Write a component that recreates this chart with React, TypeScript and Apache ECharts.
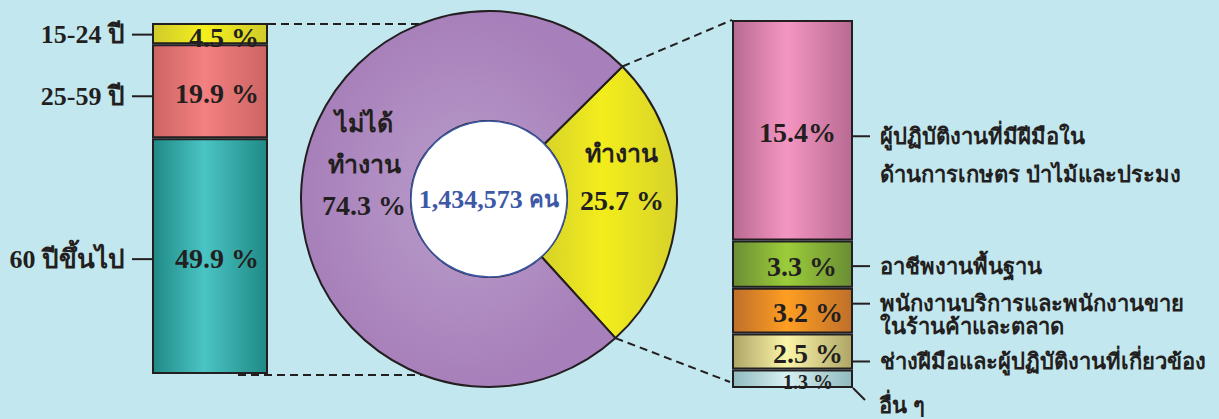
import React, { useEffect, useRef } from 'react';
import * as echarts from 'echarts';

// ---------- data ----------
const ageLabels = ['15-24 ปี', '25-59 ปี', '60 ปีขึ้นไป'];
const ageValues = [4.5, 19.9, 49.9];
const ageValueLabels = ['4.5 %', '19.9 %', '49.9 %'];

const statusNames = ['ทำงาน', 'ไม่ได้ทำงาน'];
const statusValues = [25.7, 74.3];
const statusLabels = ['ทำงาน\n25.7 %', 'ไม่ได้\nทำงาน\n74.3 %'];
const totalLabel = '1,434,573 คน';

const occLabels = [
  'ผู้ปฏิบัติงานที่มีฝีมือใน\nด้านการเกษตร ป่าไม้และประมง',
  'อาชีพงานพื้นฐาน',
  'พนักงานบริการและพนักงานขาย\nในร้านค้าและตลาด',
  'ช่างฝีมือและผู้ปฏิบัติงานที่เกี่ยวข้อง',
  'อื่น ๆ',
];
const occValues = [15.4, 3.3, 3.2, 2.5, 1.3];
const occValueLabels = ['15.4%', '3.3 %', '3.2 %', '2.5 %', '1.3 %'];

// ---------- style / layout ----------
const BG = '#c3e7ef';
const INK = '#231f20';
const BLUE = '#3d58a6';
const FONT = '"Liberation Serif", "Times New Roman", serif';
const ageColors: [string, string][] = [
  ['#cfcb2a', '#f5ef1e'],
  ['#cc6464', '#f48080'],
  ['#1f8a86', '#4ac4c4'],
];
const occColors: [string, string][] = [
  ['#b86a92', '#f596c2'],
  ['#6a8e34', '#9ccc3a'],
  ['#bf6f2a', '#ff9e22'],
  ['#aea566', '#fbf5a8'],
  ['#8fbbbf', '#d8f0f2'],
];
const L = { left: 152, top: 23, width: 116, height: 351 };
const R = { left: 732, top: 20, width: 121, height: 368 };
const PIE = { cx: 489, cy: 199, r0: 78, r1: 188, start: 44.8 };
const occTickDy = [6, 2, -7, 10, 0];
const occLineHeights = [38, 24, 23, 24, 24];
const occLabelPad = [17, 16, 10, 10, 20];
const ageTickDy = [1, 5, 3];
const pieLabelOffset = [[-3, -25], [11, -31]];
const pieLineHeight = [47, 41];

const grad = (edge: string, mid: string) =>
  new echarts.graphic.LinearGradient(0, 0, 1, 0, [
    { offset: 0, color: edge },
    { offset: 0.45, color: mid },
    { offset: 1, color: edge },
  ]);

// wrap tokens: numeric tokens -> {n|}, others (Thai) -> {t|}
const toRich = (s: string) =>
  s
    .split('\n')
    .map((line) =>
      line
        .split(' ')
        .map((tok) => (/^[\d.,%\-]+$/.test(tok) ? `{n|${tok}}` : `{t|${tok}}`))
        .join('{n| }')
    )
    .join('\n');

function buildOption(): any {
  const series: any[] = [];
  for (let i = ageValues.length - 1; i >= 0; i--) {
    series.push({
      type: 'bar',
      stack: 'age',
      xAxisIndex: 0,
      yAxisIndex: 0,
      barWidth: '100%',
      data: [ageValues[i]],
      itemStyle: { color: grad(ageColors[i][0], ageColors[i][1]), borderColor: INK, borderWidth: 2 },
      label: {
        show: true,
        position: 'insideRight',
        distance: 9,
        offset: [0, i === 0 ? 4 : 2],
        formatter: ageValueLabels[i],
        fontSize: 28,
        fontWeight: 'bold',
        fontFamily: FONT,
        color: INK,
      },
      silent: true,
    });
  }
  for (let i = occValues.length - 1; i >= 0; i--) {
    const small = i === occValues.length - 1;
    series.push({
      type: 'bar',
      stack: 'occ',
      xAxisIndex: 1,
      yAxisIndex: 1,
      barWidth: '100%',
      data: [occValues[i]],
      itemStyle: { color: grad(occColors[i][0], occColors[i][1]), borderColor: INK, borderWidth: 2 },
      label: {
        show: true,
        position: 'insideRight',
        distance: occLabelPad[i],
        offset: [0, small ? 3 : 2],
        formatter: occValueLabels[i],
        fontSize: small ? 20 : 28,
        fontWeight: 'bold',
        fontFamily: FONT,
        color: INK,
      },
      silent: true,
    });
  }
  series.push({
    type: 'pie',
    center: [PIE.cx, PIE.cy],
    radius: [PIE.r0, PIE.r1],
    startAngle: PIE.start,
    clockwise: true,
    silent: true,
    data: statusValues.map((v, i) => ({
      value: v,
      name: statusNames[i],
      itemStyle: {
        color:
          i === 0
            ? grad('#d6d22a', '#f3ed1c')
            : new echarts.graphic.RadialGradient(0.5, 0.5, 0.5, [
                { offset: 0, color: '#b99dcb' },
                { offset: 1, color: '#a77fba' },
              ]),
      },
      label: {
        offset: pieLabelOffset[i],
        rich: {
          n: { fontSize: 28, fontWeight: 'bold', fontFamily: FONT, color: INK, lineHeight: pieLineHeight[i] },
          t: { fontSize: 25, fontWeight: 'bold', fontFamily: FONT, color: INK, lineHeight: pieLineHeight[i] },
        },
      },
    })),
    itemStyle: { borderColor: INK, borderWidth: 2 },
    label: {
      show: true,
      position: 'inside',
      formatter: (p: any) => toRich(statusLabels[p.dataIndex]),
      align: 'center',
    },
    labelLine: { show: false },
  });
  series.push({
    type: 'pie',
    center: [PIE.cx, PIE.cy],
    radius: [0, PIE.r0],
    silent: true,
    data: [{ value: 1, name: 'total' }],
    itemStyle: { color: '#ffffff', borderColor: BLUE, borderWidth: 1.5 },
    label: {
      show: true,
      position: 'center',
      formatter: toRich(totalLabel),
      rich: {
        n: { fontSize: 26, fontWeight: 'bold', fontFamily: FONT, color: BLUE },
        t: { fontSize: 22, fontWeight: 'bold', fontFamily: FONT, color: BLUE },
      },
    },
    labelLine: { show: false },
  });

  const ageTotal = ageValues.reduce((a, b) => a + b, 0);
  const occTotal = occValues.reduce((a, b) => a + b, 0);
  return {
    animation: false,
    backgroundColor: BG,
    grid: [
      { left: L.left, top: L.top, width: L.width, height: L.height },
      { left: R.left, top: R.top, width: R.width, height: R.height },
    ],
    xAxis: [
      { type: 'category', gridIndex: 0, data: ['a'], show: false },
      { type: 'category', gridIndex: 1, data: ['b'], show: false },
    ],
    yAxis: [
      { type: 'value', gridIndex: 0, min: 0, max: ageTotal, show: false, splitLine: { show: false } },
      { type: 'value', gridIndex: 1, min: 0, max: occTotal, show: false, splitLine: { show: false } },
    ],
    series,
  };
}

function buildGraphics(chart: any): any[] {
  const g: any[] = [];
  const lineStyle = { stroke: INK, lineWidth: 2 };
  const textStyle = (extra: any) => ({
    fill: INK,
    fontSize: 22,
    fontWeight: 'bold',
    fontFamily: FONT,
    ...extra,
  });
  const ageTotal = ageValues.reduce((a, b) => a + b, 0);
  let upper = ageTotal;
  ageValues.forEach((v, i) => {
    const mid = upper - v / 2;
    upper -= v;
    const y = chart.convertToPixel({ gridIndex: 0 }, [0, mid])[1] + ageTickDy[i];
    g.push({ type: 'line', shape: { x1: L.left - 20, y1: y, x2: L.left, y2: y }, style: lineStyle, z: 10 });
    g.push({
      type: 'text',
      x: L.left - 27,
      y,
      style: textStyle({
        text: toRich(ageLabels[i]),
        textAlign: 'right',
        textVerticalAlign: 'middle',
        rich: {
          n: { fontSize: 26, fontWeight: 'bold', fontFamily: FONT, fill: INK },
          t: { fontSize: 26, fontWeight: 'bold', fontFamily: FONT, fill: INK },
        },
      }),
      z: 10,
    });
  });
  const occTotal = occValues.reduce((a, b) => a + b, 0);
  const rx = R.left + R.width;
  upper = occTotal;
  occValues.forEach((v, i) => {
    const mid = upper - v / 2;
    upper -= v;
    const last = i === occValues.length - 1;
    if (last) {
      const yb = chart.convertToPixel({ gridIndex: 1 }, [0, 0])[1];
      g.push({ type: 'line', shape: { x1: rx, y1: yb, x2: rx + 12, y2: yb + 12 }, style: lineStyle, z: 10 });
      g.push({
        type: 'text',
        x: rx + 26,
        y: yb + 17,
        style: textStyle({ text: occLabels[i], textAlign: 'left', textVerticalAlign: 'middle' }),
        z: 10,
      });
      return;
    }
    const y = chart.convertToPixel({ gridIndex: 1 }, [0, mid])[1] + occTickDy[i];
    g.push({ type: 'line', shape: { x1: rx, y1: y, x2: rx + 17, y2: y }, style: lineStyle, z: 10 });
    const lh = occLineHeights[i];
    g.push({
      type: 'text',
      x: rx + 27,
      y: y - lh / 2,
      style: textStyle({ text: occLabels[i], textAlign: 'left', textVerticalAlign: 'top', lineHeight: lh }),
      z: 10,
    });
  });
  const dash = { stroke: INK, lineWidth: 2, lineDash: [8, 5] };
  const circleX = (y: number) => PIE.cx - Math.sqrt(PIE.r1 * PIE.r1 - (y - PIE.cy) * (y - PIE.cy));
  const lTop = chart.convertToPixel({ gridIndex: 0 }, [0, ageTotal])[1];
  const lBot = chart.convertToPixel({ gridIndex: 0 }, [0, 0])[1];
  g.push({ type: 'line', shape: { x1: L.left + L.width, y1: lTop + 1, x2: circleX(lTop + 1), y2: lTop + 1 }, style: dash, z: 1 });
  g.push({ type: 'line', shape: { x1: L.left + 86, y1: lBot + 1, x2: circleX(lBot + 1), y2: lBot + 1 }, style: dash, z: 1 });
  const total = statusValues.reduce((a, b) => a + b, 0);
  const a0 = (PIE.start * Math.PI) / 180;
  const a1 = ((PIE.start - (statusValues[0] / total) * 360) * Math.PI) / 180;
  const rTop = chart.convertToPixel({ gridIndex: 1 }, [0, occTotal])[1];
  const rBot = chart.convertToPixel({ gridIndex: 1 }, [0, 0])[1];
  g.push({
    type: 'line',
    shape: { x1: PIE.cx + PIE.r1 * Math.cos(a0), y1: PIE.cy - PIE.r1 * Math.sin(a0), x2: R.left, y2: rTop },
    style: dash,
    z: 1,
  });
  g.push({
    type: 'line',
    shape: { x1: PIE.cx + PIE.r1 * Math.cos(a1), y1: PIE.cy - PIE.r1 * Math.sin(a1), x2: R.left - 2, y2: rBot - 6 },
    style: dash,
    z: 1,
  });
  return g;
}

export default function App() {
  const ref = useRef<HTMLDivElement>(null);
  useEffect(() => {
    if (!ref.current) return;
    const chart = echarts.init(ref.current, null, { renderer: 'svg' });
    chart.setOption(buildOption());
    chart.setOption({ graphic: buildGraphics(chart) });
    return () => chart.dispose();
  }, []);
  return (
    <div
      ref={ref}
      style={{ position: 'fixed', left: 0, top: 0, width: 1219, height: 419 }}
    />
  );
}
